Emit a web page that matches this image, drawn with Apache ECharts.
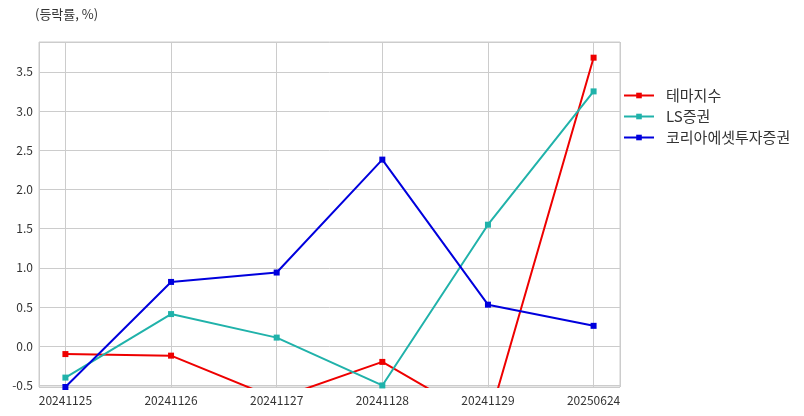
<!DOCTYPE html>
<html><head><meta charset="utf-8">
<script src="https://cdn.jsdelivr.net/npm/echarts@6/dist/echarts.min.js"></script>
<style>html,body{margin:0;padding:0;background:#fff}#c{width:804px;height:416px}</style>
</head><body><div id="c"></div>
<script>
const categories = ['20241125','20241126','20241127','20241128','20241129','20250624'];
const seriesNames = ['테마지수','LS증권','코리아에셋투자증권'];
const themeIndex = [-0.10, -0.12, -0.67, -0.20, -0.98, 3.68];
const lsSec = [-0.40, 0.41, 0.11, -0.50, 1.55, 3.25];
const koreaAsset = [-0.52, 0.82, 0.94, 2.38, 0.53, 0.26];
const colors = ['#ee0000', '#20b2aa', '#0000dd'];
const font = 'Noto Sans CJK KR';

const toPts = arr => arr.map((v, i) => [i, v]);
const chart = echarts.init(document.getElementById('c'));
chart.setOption({
  animation: false,
  textStyle: { fontFamily: font },
  graphic: [{ type: 'text', left: 35, top: 8, style: { text: '(등락률, %)', font: '13px "Noto Sans CJK KR"', fill: '#333' } }],
  legend: {
    orient: 'vertical', left: 618, top: 83, itemGap: 6, itemWidth: 30, itemHeight: 7,
    textStyle: { fontSize: 15, color: '#333', fontFamily: font, padding: [0, 0, 0, 7] },
    data: seriesNames
  },
  grid: { left: 39, right: 184, top: 42, bottom: 29, show: true, borderColor: '#ccc', borderWidth: 1, containLabel: false },
  xAxis: {
    type: 'value', min: -0.25, max: 5.25, splitNumber: 5, minInterval: 1, maxInterval: 1,
    axisLine: { show: false }, axisTick: { show: false },
    splitLine: { show: true, lineStyle: { color: '#ccc' } },
    axisLabel: {
      color: '#333', fontSize: 12, margin: 7, showMinLabel: false, showMaxLabel: false,
      formatter: v => (Math.abs(v - Math.round(v)) < 1e-6 && categories[Math.round(v)]) ? categories[Math.round(v)] : ''
    }
  },
  yAxis: {
    type: 'value', min: -0.52, max: 3.88, splitNumber: 9, minInterval: 0.5, maxInterval: 0.5,
    axisLine: { show: false }, axisTick: { show: false },
    splitLine: { show: true, lineStyle: { color: '#ccc' } },
    axisLabel: {
      color: '#333', fontSize: 12, margin: 6,
      formatter: v => { const r = Math.round(v * 2) / 2; return Math.abs(v - r) < 1e-6 ? r.toFixed(1) : ''; }
    }
  },
  series: [themeIndex, lsSec, koreaAsset].map((d, k) => ({
    name: seriesNames[k], type: 'line', data: toPts(d), symbol: 'rect', symbolSize: 6,
    showAllSymbol: true, clip: true,
    itemStyle: { color: colors[k] }, lineStyle: { color: colors[k], width: 2 }
  }))
});
</script></body></html>
